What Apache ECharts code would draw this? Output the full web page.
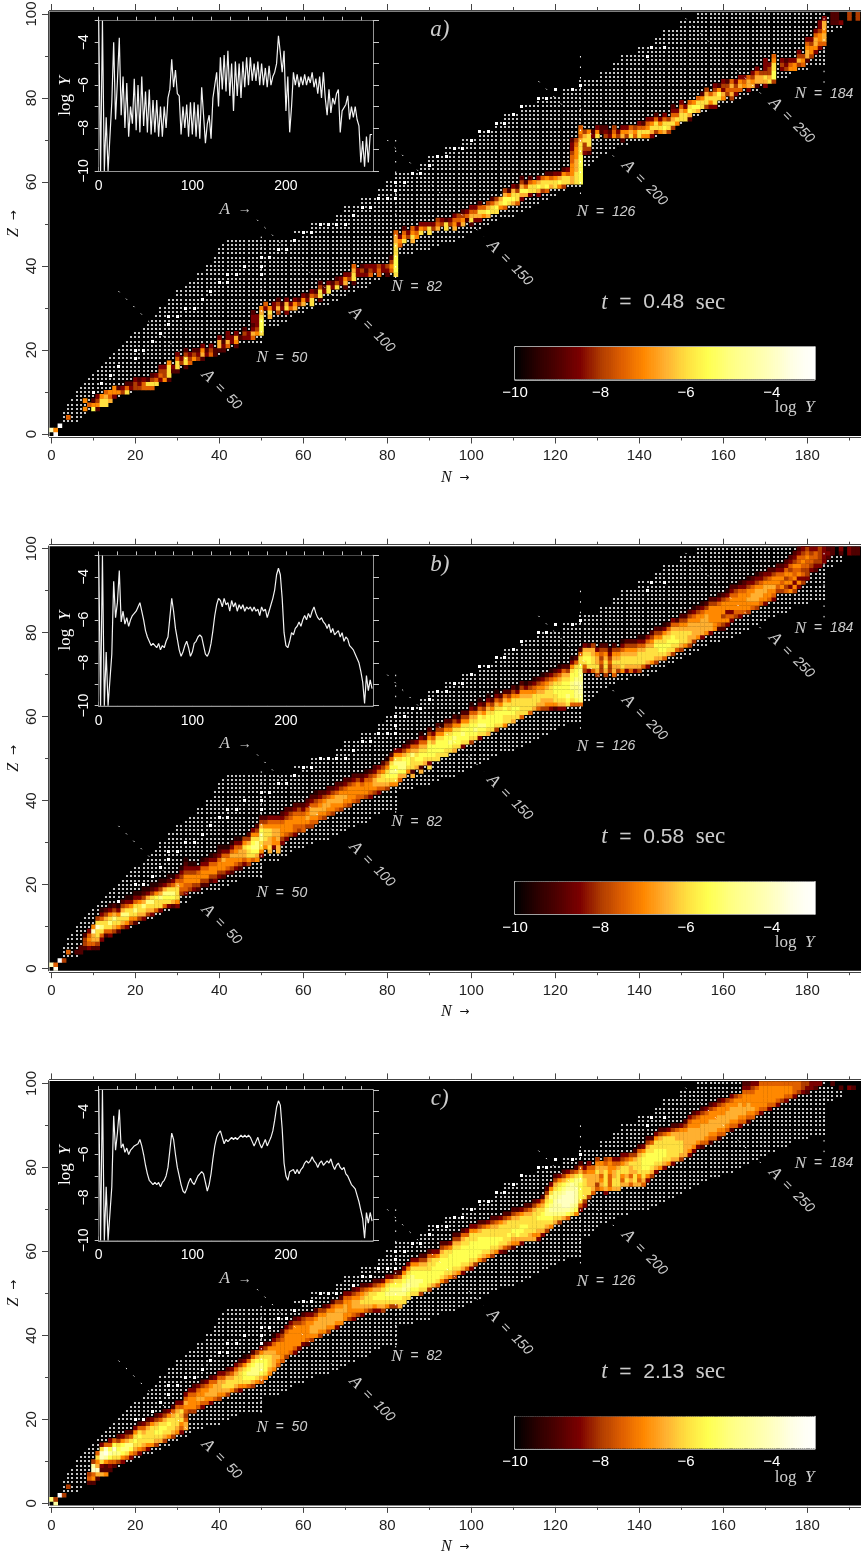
<!DOCTYPE html>
<html><head><meta charset="utf-8">
<style>html,body{margin:0;padding:0;background:#fff}#c{width:861px;height:1558px}</style>
<script src="https://cdn.jsdelivr.net/npm/echarts@6/dist/echarts.min.js"></script></head>
<body><div id="c"></div>
<script>
// Tick values
const nMajor=[0,20,40,60,80,100,120,140,160,180], nMinor=[10,30,50,70,90,110,130,150,170,190];
const zMajor=[0,20,40,60,80,100], zMinor=[10,30,50,70,90];
const insetAMajor=[0,100,200], insetATicks=[0,20,40,60,80,100,120,140,160,180,200,220,240,260,280];
const insetYMajor=[-10,-8,-6,-4], insetYTicks=[-10,-9,-8,-7,-6,-5,-4,-3];
const barMajor=[-10,-8,-6,-4], barTicks=[-10,-9,-8,-7,-6,-5,-4,-3];
const panelLetters=['a)','b)','c)'], panelTimes=['0.48','0.58','2.13'];

// Extent of the reaction network: first Z is 3
const networkNMin=[3,3,3,4,4,5,6,6,7,8,9,10,11,12,13,14,15,16,17,18,19,20,22,23,24,25,26,26,28,28,30,30,32,33,35,35,37,37,39,39,40,40,41,42,60,58,62,62,68,68,70,70,74,74,78,78,80,80,82,82,88,88,90,90,94,94,98,98,102,102,106,106,108,108,112,112,116,116,122,122,126,126,131,131,134,134,136,136,140,140,144,144,146,146,150,150,154,154];
const networkNMax=[6,7,8,10,12,14,16,19,21,24,26,28,30,32,33,36,40,42,44,50,50,50,50,54,56,57,60,62,66,68,70,72,75,76,78,82,82,82,82,82,86,90,92,96,98,100,102,104,106,110,112,114,116,118,120,122,126,126,126,126,126,128,129,130,132,134,137,142,144,146,148,150,152,154,156,159,162,164,166,168,170,172,175,176,180,184,184,184,184,184,184,184,184,186,188,188,186,184];
// Stable nuclei, drawn a little larger [N,Z]
const stableDots=[[10,10],[12,12],[14,14],[16,16],[20,20],[20,18],[22,20],[24,22],[26,24],[28,26],[28,28],[30,28],[32,30],[34,30],[36,32],[38,34],[40,36],[42,36],[42,38],[44,38],[46,40],[50,38],[50,40],[50,42],[52,42],[54,44],[56,44],[58,46],[60,48],[62,48],[64,50],[66,50],[68,50],[70,50],[72,52],[74,54],[76,54],[78,56],[80,56],[82,56],[82,58],[82,60],[84,60],[86,62],[88,62],[90,64],[92,66],[94,66],[96,68],[98,68],[100,70],[102,72],[104,72],[106,74],[108,74],[110,76],[112,78],[116,80],[118,80],[120,82],[124,82],[126,83],[142,90],[143,92],[146,92]];

// Abundance columns: [N, lowest Z, levels upward]. One hex digit per nuclide, logY = -10 + digit/2, '.' = empty
const cellsA=[[0,1,"c"],[1,0,"e6"],[2,2,"e"],[4,4,"5"],[8,6,"6.6"],[9,7,"5"],[10,6,"962"],[11,6,"2643"],[12,7,"886"],[13,7,"8875"],[14,8,"756"],[15,9,"366"],[16,10,"62"],[17,10,"43"],[18,10,"852"],[19,11,"32"],[20,11,"443"],[21,11,"432"],[22,11,"553"],[23,11,"582"],[24,11,"5842"],[25,12,"853"],[26,13,"3543"],[27,13,"6443"],[28,13,"28886"],[29,15,"23"],[30,15,"28853"],[31,17,"43"],[32,16,"28842"],[33,17,"543"],[34,18,"642"],[35,18,"432"],[36,18,"2763"],[37,19,"32"],[38,19,"543"],[39,19,"22"],[40,20,"2773"],[41,20,"232"],[42,21,"5733"],[43,22,"33"],[44,21,"2673"],[45,23,"2"],[46,23,"342"],[47,23,"33"],[48,23,"5732332"],[49,24,"64333"],[50,24,"8999876"],[51,30,"35"],[52,28,"786"],[53,30,"33"],[54,29,"4742"],[55,30,"32"],[56,29,"3873"],[57,30,"53"],[58,30,"763"],[59,31,"42"],[60,31,"763"],[61,32,"32"],[62,31,"8853"],[63,33,"42"],[64,32,"28842"],[65,34,"32"],[66,34,"883"],[67,35,"32"],[68,35,"842"],[69,36,"33"],[70,35,"2763"],[71,37,"43"],[72,36,"28875"],[73,38,"33"],[74,38,"342"],[75,38,"323"],[76,38,"543"],[77,39,"33"],[78,38,"554"],[79,39,"33"],[80,38,"234"],[81,39,"5642"],[82,38,"89999888775"],[83,45,"563"],[84,46,"8652"],[85,47,"43"],[86,46,"7865"],[87,47,"653"],[88,48,"863"],[89,49,"53"],[90,48,"883"],[91,49,"43"],[92,49,"754"],[93,50,"43"],[94,49,"882"],[95,50,"43"],[96,49,"7653"],[97,50,"354"],[98,50,"7642"],[99,51,"253"],[100,50,"28753"],[101,51,"3753"],[102,51,"37852"],[103,52,"685"],[104,52,"7974"],[105,53,"8852"],[106,53,"8974"],[107,54,"687"],[108,54,"59974"],[109,55,"8962"],[110,55,"79873"],[111,55,"58842"],[112,56,"379742"],[113,57,"7952"],[114,57,"38852"],[115,58,"886"],[116,57,"37973"],[117,58,"4885"],[118,58,"59862"],[119,59,"7852"],[120,59,"8863"],[121,59,"6973"],[122,59,"48862"],[123,60,"8853"],[124,60,"77666554332"],[125,60,"88877766654"],[126,60,"99999998887565"],[127,67,"344874"],[128,67,"248886"],[129,71,"32"],[130,71,"863"],[131,72,"22"],[132,71,"432"],[133,71,"32"],[134,71,"654"],[135,71,"43"],[136,70,"2763"],[137,71,"463"],[138,71,"875"],[139,71,"564"],[140,71,"8853"],[141,71,"6852"],[142,71,"68653"],[143,71,"37863"],[144,72,"48852"],[145,72,"6863"],[146,72,"79853"],[147,72,"4884"],[148,73,"487532"],[149,74,"6853"],[150,75,"88753"],[151,75,"8863"],[152,75,"27985"],[153,77,"896"],[154,77,"7985"],[155,78,"8862"],[156,78,"48874"],[157,78,"3685"],[158,78,"388743"],[159,80,"8962"],[160,80,"67343"],[161,81,"4542"],[162,80,"47575"],[163,81,"3543"],[164,82,"5763"],[165,83,"653"],[166,82,"3775"],[167,83,"7643"],[168,83,"27753"],[169,84,"774"],[170,83,"3784333"],[171,84,"87443"],[172,84,"4998865"],[174,87,"343"],[175,87,"432"],[176,87,"653"],[177,87,"663"],[178,88,"4743"],[179,88,"564"],[180,89,"277653"],[181,90,"46643"],[182,91,"367753"],[183,92,"3566433"],[184,93,"5776773"],[186,98,"222"],[187,98,"222"],[188,98,"3"],[190,99,"44"],[192,99,"44"]];
const cellsB=[[0,1,"c"],[1,0,"d5"],[2,2,"e"],[3,2,"4"],[4,4,"5"],[6,4,"2"],[7,4,"22"],[8,5,"2442"],[9,5,"35653"],[10,5,"2577c6"],[11,5,"24788c84"],[12,7,"358a8531"],[13,8,"2588742"],[14,8,"358a8631"],[15,9,"478a742"],[16,9,"2688631"],[17,10,"478a742"],[18,10,"368a8531"],[19,11,"4688631"],[20,11,"268a8531"],[21,12,"4788631"],[22,12,"378a7421"],[23,13,"478a731"],[24,13,"378a8421"],[25,14,"5889631"],[26,14,"388a7421"],[27,15,"589a731"],[28,15,"389a8421"],[29,15,"279a8531"],[30,15,"36888753"],[31,18,"4565431"],[32,18,"355664321"],[33,19,"4566431"],[34,19,"3466431"],[35,19,"246653"],[36,20,"2466531"],[37,20,"2466532"],[38,21,"2466531"],[39,21,"3466532"],[40,22,"34665321"],[41,22,"24667531"],[42,23,"3566531"],[43,23,"24667531"],[44,24,"35676531"],[45,24,"24677531"],[46,25,"3577864"],[47,25,"46889742"],[48,26,"589a9863"],[49,26,"679aa8642"],[50,27,"3688aa9742"],[51,29,"67888642"],[52,28,"787788653"],[53,29,"36677653"],[54,28,"776777653"],[55,30,"34666532"],[56,31,"35666432"],[57,32,"4666542"],[58,32,"35566532"],[59,33,"4566542"],[60,33,"5566532"],[61,34,"4676532"],[62,34,"45677532"],[63,35,"56775421"],[64,36,"5676532"],[65,36,"4677642"],[66,37,"5677532"],[67,37,"4667642"],[68,38,"5677532"],[69,38,"4677642"],[70,39,"5676532"],[71,39,"4666642"],[72,40,"5666532"],[73,40,"4566642"],[74,41,"566532"],[75,41,"4666531"],[76,41,"3566542"],[77,42,"4677532"],[78,42,"3578753"],[79,43,"5788642"],[80,43,"47898641"],[81,44,"689a9852"],[82,44,"689a9a863"],[83,45,"579aa863"],[84,46,"79aa9742"],[85,47,"68998631"],[86,46,"72888a752"],[87,48,"7898753"],[88,47,"7289987531"],[89,49,"7898752"],[90,48,"8389998642"],[91,50,"8999753"],[92,50,"889998642"],[93,51,"89998641"],[94,51,"889998642"],[95,52,"89a98642"],[96,52,"789a98642"],[97,53,"89998631"],[98,53,"389a98642"],[99,54,"89998642"],[100,54,"4899987531"],[101,55,"89a98752"],[102,55,"389a997531"],[103,56,"89a98642"],[104,56,"7899987531"],[105,57,"89998642"],[106,57,"4899987531"],[107,58,"89998642"],[108,58,"688998752"],[109,59,"88988642"],[110,59,"789988642"],[111,60,"88988631"],[112,60,"588887642"],[113,61,"88887631"],[114,61,"58887642"],[115,62,"78886531"],[116,62,"57887642"],[117,62,"477876531"],[118,62,"467887642"],[119,62,"3678887531"],[120,62,"2688998642"],[121,62,"37899987531"],[122,62,"37899998752"],[123,63,"89a9998742"],[124,63,"5899aa998631"],[125,63,"59aaaba99852"],[126,63,"5aabbbaaa98852"],[127,71,"4589873"],[128,71,"3899872"],[129,71,"5888774"],[130,70,"4787763"],[131,71,"4454542"],[132,70,"47887642"],[133,71,"445432"],[134,70,"57787642"],[135,71,"478764"],[136,71,"68887531"],[137,71,"37887642"],[138,71,"57887642"],[139,71,"37887642"],[140,71,"478887531"],[141,72,"58887531"],[142,72,"37888753"],[143,73,"68887642"],[144,73,"478898642"],[145,74,"78998642"],[146,74,"589988631"],[147,75,"78998752"],[148,75,"488998753"],[149,76,"58988752"],[150,76,"478887642"],[151,77,"68887642"],[152,77,"477877642"],[153,78,"477776531"],[154,79,"67776642"],[155,79,"377776531"],[156,80,"67777642"],[157,80,"377666642"],[158,81,"66666642"],[159,81,"256666531"],[160,81,"246466642"],[161,82,"365366531"],[162,83,"353666532"],[163,84,"45666542"],[164,84,"356666531"],[165,85,"56666532"],[166,85,"466766431"],[167,86,"56776532"],[168,86,"467776431"],[169,87,"56776532"],[170,87,"36677643"],[171,88,"56676532"],[172,88,"35676642"],[173,90,"4566532"],[174,90,"4656532"],[175,90,"54646532"],[176,90,"636564532"],[177,90,"4636556432"],[178,91,"3636565532"],[179,92,"4354565432"],[180,93,"344556542"],[181,95,"345543"],[182,95,"234553"],[183,96,"34444"],[184,97,"3333"],[185,98,"232"],[186,99,"22"],[188,99,"23"],[190,99,"33"],[191,99,"22"],[192,99,"22"]];
const cellsC=[[0,1,"a"],[1,0,"b4"],[2,2,"e"],[3,2,"4"],[4,4,"4"],[9,5,"254"],[10,5,"265cb4"],[11,6,"27c7685"],[12,7,"7238cc83"],[13,7,"6226bdc5"],[14,8,"2359b953"],[15,9,"258ac95"],[16,10,"48a9842"],[17,10,"369a963"],[18,11,"58aa742"],[19,11,"369a852"],[20,12,"5789863"],[21,12,"36889852"],[22,13,"5788753"],[23,13,"36888742"],[24,14,"6888863"],[25,14,"47898742"],[26,15,"7899853"],[27,15,"47898742"],[28,16,"6889863"],[29,16,"47888752"],[30,17,"67888753"],[31,17,"35687853"],[32,18,"775456753"],[33,22,"466653"],[34,22,"4666532"],[35,23,"567653"],[36,23,"3576642"],[37,24,"567653"],[38,24,"3677652"],[39,25,"577753"],[40,25,"4677753"],[41,26,"678753"],[42,26,"4788742"],[43,27,"688753"],[44,27,"4788753"],[45,27,"36888742"],[46,28,"68998631"],[47,28,"589a9852"],[48,28,"479aa9852"],[49,29,"68aaa974"],[50,29,"579aa9863"],[51,30,"689998742"],[52,31,"67888763"],[53,32,"677776531"],[54,33,"56766643"],[55,34,"56666542"],[56,35,"46666653"],[57,36,"56666643"],[58,36,"356666642"],[59,37,"36666643"],[60,38,"36666542"],[61,38,"25666653"],[62,39,"4677653"],[63,40,"6777642"],[64,40,"4677764"],[65,41,"6777642"],[66,41,"4677763"],[67,42,"6777652"],[68,42,"3677764"],[69,43,"6777642"],[70,44,"6677653"],[71,44,"4666653"],[72,44,"35677642"],[73,45,"4677653"],[74,45,"36787642"],[75,46,"5788752"],[76,46,"4788863"],[77,46,"36898742"],[78,46,"37899752"],[79,46,"47899863"],[80,47,"689a9863"],[81,47,"489aa973"],[82,47,"489aa9842"],[83,47,"789aa9852"],[84,48,"88aba9863"],[85,49,"89aba9863"],[86,50,"89aaa9863"],[87,50,"89aa99863"],[88,50,"489a998742"],[89,51,"899998742"],[90,51,"4899988752"],[91,52,"799998853"],[92,52,"589999863"],[93,53,"6899998742"],[94,53,"4789998852"],[95,54,"689999863"],[96,54,"47899998742"],[97,55,"6899998742"],[98,55,"37899998752"],[99,56,"5899998853"],[100,56,"37899998863"],[101,57,"4899998863"],[102,58,"6899998742"],[103,58,"4789998852"],[104,59,"689998863"],[105,59,"4789988742"],[106,60,"689988752"],[107,60,"378988863"],[108,60,"2588888742"],[109,61,"478988852"],[110,61,"2678988742"],[111,62,"679988752"],[112,62,"378998863"],[113,63,"788988742"],[114,63,"778888752"],[115,63,"7688888742"],[116,63,"3678898863"],[117,64,"3788998752"],[118,65,"4789aa98742"],[119,66,"689aba9a863"],[120,67,"78abbbaa8742"],[121,67,"48abbcba9863"],[122,68,"7abcccba9742"],[123,68,"59bccccba863"],[124,69,"8abcccbb974"],[125,69,"69abbbbaa852"],[126,70,"3589999a9752"],[127,71,"3488888753"],[128,73,"488777653"],[129,74,"5777765"],[130,75,"54778764"],[131,75,"6765776"],[132,74,"378888754"],[133,75,"65556665"],[134,75,"78877653"],[135,75,"78888753"],[136,76,"75688643"],[137,76,"78788753"],[138,76,"57577864"],[139,76,"788788742"],[140,76,"7568888752"],[141,76,"5788999863"],[142,77,"36899998742"],[143,78,"4789998852"],[144,79,"3789998863"],[145,80,"6899988742"],[146,80,"3789988852"],[147,81,"688888863"],[148,81,"3788888742"],[149,82,"788887752"],[150,82,"478887763"],[151,83,"777777642"],[152,83,"3677777653"],[153,84,"3677776642"],[154,85,"367776653"],[155,85,"2577776642"],[156,86,"567776653"],[157,86,"2567776642"],[158,87,"567776653"],[159,87,"2567776642"],[160,88,"567776653"],[161,89,"56777664"],[162,89,"256777653"],[163,90,"56777664"],[164,90,"35677765"],[165,91,"5677666532"],[166,91,"2567766532"],[167,92,"567666543"],[168,93,"56666653"],[169,93,"35666665"],[170,94,"5666665"],[171,94,"3566665"],[172,95,"566665"],[173,95,"356665"],[174,96,"46665"],[175,96,"35665"],[176,97,"5665"],[177,97,"3555"],[178,98,"455"],[179,98,"344"],[180,98,"234"],[181,99,"33"],[182,99,"23"],[183,100,"3"],[186,100,"2"],[188,99,"2"],[190,99,"3"],[191,99,"2"]];

// Inset: log Y per mass number A = 0, 2, 4 ... 292
const insetA=[-3,-10,-3,-10,-7.5,-10,-10,-6.8,-4,-7.6,-5.8,-3.8,-7.4,-5.6,-8,-5.9,-8.4,-7,-7.8,-5.7,-8.1,-6,-8.2,-5.6,-7.9,-6.3,-8.2,-6.2,-8.3,-6.7,-8.2,-6.7,-8.4,-7,-8.4,-7,-8,-6.6,-6.2,-4.8,-6.1,-5.3,-6.4,-6.5,-8.3,-7,-8,-6.9,-8.4,-6.8,-8.3,-6.8,-8.4,-6.9,-8.5,-6.1,-7.4,-8.7,-7.8,-7.4,-8.5,-6.6,-6,-5.4,-7,-4.7,-6.2,-4.6,-6.3,-4.4,-6.5,-5,-7.2,-4.9,-6.5,-5,-6.6,-4.9,-6.1,-4.7,-6,-4.7,-5.8,-5,-5.8,-4.9,-6,-5,-6,-5.2,-6.1,-5.1,-6,-5.6,-5.4,-5,-3.7,-4.5,-5.4,-4.4,-7.2,-5.6,-8.2,-7,-5.4,-6,-5.5,-6.1,-5.6,-6,-5.5,-6,-5.6,-5.9,-5.4,-6.1,-5.7,-6.4,-5.6,-6.6,-5.4,-6.6,-7.4,-6.2,-7.3,-6.6,-6.9,-6.4,-6.2,-8.2,-7.2,-7.2,-6.9,-6.5,-7.6,-7,-7.5,-7,-7.6,-7.9,-9.6,-8.6,-9.8,-8.4,-9.6,-8.3,-8.3];
const insetB=[-3,-10,-3,-10,-7.5,-10,-10,-7.6,-4.2,-5.9,-5.2,-3.7,-6.1,-5.6,-6.2,-5.9,-6.3,-6,-5.8,-5.7,-5.6,-5.4,-5.2,-5.6,-6,-6.5,-6.8,-7,-7.2,-7.1,-7.1,-7.3,-7.1,-7.4,-7.2,-7.3,-7,-6.8,-5.9,-5,-5.6,-6.4,-6.9,-7.4,-7.7,-7.5,-7.2,-7,-7.3,-7.7,-7.5,-7.1,-7,-6.8,-6.7,-6.8,-7.2,-7.6,-7.7,-7.5,-7.1,-6.5,-5.8,-5.3,-5,-5.1,-5.4,-5,-5.3,-5.2,-5.6,-5.1,-5.4,-5.2,-5.6,-5.3,-5.5,-5.3,-5.6,-5.4,-5.5,-5.4,-5.6,-5.4,-5.6,-5.5,-5.8,-5.4,-5.6,-5.5,-5.9,-5.6,-5.3,-5,-4.6,-3.9,-3.6,-3.9,-5,-6.6,-7.2,-7.3,-7,-6.6,-6.7,-6.4,-6.3,-6.1,-6.3,-6,-5.8,-6,-5.7,-5.9,-5.6,-5.4,-5.7,-5.9,-6,-5.9,-6.1,-6.2,-6.4,-6.2,-6.6,-6.4,-6.7,-6.6,-6.5,-6.8,-6.6,-7,-6.8,-6.9,-7.2,-7.3,-7.4,-7.6,-7.8,-8,-8.4,-8.9,-9.9,-8.6,-9.3,-8.8,-9.2];
const insetC=[-3,-10,-3,-10,-7.5,-10,-10,-7.5,-4.2,-5.8,-5,-3.9,-5.7,-5.5,-5.9,-5.7,-6,-5.8,-5.7,-5.6,-5.6,-5.5,-5.3,-5.6,-6,-6.5,-6.9,-7.2,-7.3,-7.4,-7.3,-7.4,-7.3,-7.5,-7.3,-7.2,-7,-6.6,-5.8,-5,-5.3,-6,-6.6,-7,-7.4,-7.7,-7.8,-7.6,-7.3,-7.1,-7.3,-7.4,-7.2,-7,-6.9,-6.8,-6.9,-7.3,-7.7,-7.4,-6.9,-6.2,-5.6,-5.2,-5,-4.9,-5.2,-5.5,-5.3,-5.4,-5.3,-5.2,-5.3,-5.2,-5.3,-5.2,-5.1,-5.2,-5.1,-5.2,-5.1,-5.2,-5.4,-5.6,-5.4,-5.2,-5.5,-5.7,-5.5,-5.3,-5.6,-5.4,-5.2,-4.9,-4.4,-3.8,-3.5,-3.7,-4.8,-6.4,-7,-7.2,-6.8,-6.8,-6.7,-6.9,-6.7,-6.9,-6.7,-6.6,-6.4,-6.3,-6.4,-6.3,-6.1,-6.3,-6.4,-6.6,-6.4,-6.3,-6.5,-6.4,-6.3,-6.4,-6.2,-6.5,-6.7,-6.5,-6.4,-6.6,-6.7,-6.6,-6.9,-7,-7.2,-7.4,-7.5,-7.6,-7.9,-8.2,-8.6,-9,-9.9,-8.7,-9.2,-8.7,-9.1];

// Dotted guides as [N,Z] pairs, null splits them
const guideLines=[[16,34],[33,17],[null,null],[49,51],[68,32],[null,null],[80,70],[103,47],[null,null],[116,84],[135,65],[null,null],[151,99],[170,80],[null,null],[50,47],[50,18],[null,null],[82,70],[82,36],[null,null],[126,90],[126,55],[null,null],[184,99],[184,83]];
const annotations=[[54.9,18.1,'{i|N}{s|  =  }{d|50}',0],[87,35,'{i|N}{s|  =  }{d|82}',0],[132.1,52.9,'{i|N}{s|  =  }{d|126}',0],[184,81,'{i|N}{s|  =  }{d|184}',0],[40.6,10.5,'{i|A}{s|  =  }{d|50}',-45],[76.4,24.8,'{i|A}{s|  =  }{d|100}',-45],[109.2,40.7,'{i|A}{s|  =  }{d|150}',-45],[141.3,59.7,'{i|A}{s|  =  }{d|200}',-45],[176.3,74.6,'{i|A}{s|  =  }{d|250}',-45],[43.9,53.5,'{i|A}{s|  →}',0],[177,6.2,'{wr|log  }{wi|Y}',0]];
const colorStops=['#000000','#2a0000','#500000','#7c0000','#b03c00','#e06000','#ff8800','#ffb030','#ffe040','#ffff50','#ffff80','#ffffa0','#ffffc0','#ffffe8','#ffffff'];

const rich={i:{fontFamily:'Liberation Serif',fontStyle:'italic',fontSize:17,color:'#fff'},s:{fontFamily:'Liberation Sans',fontSize:14,color:'#fff'},d:{fontFamily:'Liberation Sans',fontStyle:'italic',fontSize:14,color:'#fff'},
 ti:{fontFamily:'Liberation Serif',fontStyle:'italic',fontSize:23,color:'#fff'},ts:{fontFamily:'Liberation Sans',fontSize:21,color:'#fff'},td:{fontFamily:'Liberation Sans',fontSize:21,color:'#fff'},tu:{fontFamily:'Liberation Serif',fontSize:23,color:'#fff'},
 L:{fontFamily:'Liberation Serif',fontStyle:'italic',fontSize:23,color:'#fff'},
 ax:{fontFamily:'Liberation Serif',fontStyle:'italic',fontSize:16,color:'#111'},ar:{fontFamily:'DejaVu Sans',fontSize:12,color:'#111'},
 wi:{fontFamily:'Liberation Serif',fontStyle:'italic',fontSize:17,color:'#fff'},wr:{fontFamily:'Liberation Serif',fontSize:17,color:'#fff'}};

const PANEL_STEP=534.7, N0=-0.43, N1=192.8, Z0=-0.476, Z1=100.6;
const minus=v=>String(v).replace('-','\u2212');
const colorbarLevels=[]; for(let k=0;k<140;k++) colorbarLevels.push(-10+k*0.05);

const grids=[],xAxes=[],yAxes=[],series=[],cellSeriesIdx=[];
function xAx(g,o){xAxes.push(Object.assign({type:'value',gridIndex:g,min:N0,max:N1,splitLine:{show:false},axisLine:{show:true,onZero:false,lineStyle:{color:'#444',width:1}},axisLabel:{show:false},axisTick:{show:false}},o));return xAxes.length-1;}
function yAx(g,o){yAxes.push(Object.assign({type:'value',gridIndex:g,min:Z0,max:Z1,splitLine:{show:false},axisLine:{show:true,onZero:false,lineStyle:{color:'#444',width:1}},axisLabel:{show:false},axisTick:{show:false}},o));return yAxes.length-1;}
const tick=(vals,len,col,inside)=>({show:true,customValues:vals,length:len,inside:!!inside,lineStyle:{color:col||'#444',width:1}});

[cellsA,cellsB,cellsC].forEach((cols,p)=>{
  const dy=PANEL_STEP*p, g=grids.length;
  grids.push({left:49.5,top:11.5+dy,width:811.5,height:424.5,show:true,backgroundColor:'#000',borderWidth:0,outerBoundsMode:'none'});
  const ln={fontFamily:'Liberation Sans',fontSize:15,color:'#222'};
  const x0=xAx(g,{position:'bottom',offset:1.5,axisTick:tick(nMajor,6),axisLabel:Object.assign({show:true,customValues:nMajor,margin:11},ln),
    name:'{ax|N}{ar|  →}',nameLocation:'middle',nameGap:32,nameTextStyle:{rich}});
  xAx(g,{position:'bottom',offset:1.5,axisTick:tick(nMinor,3)});
  xAx(g,{position:'top',offset:1.5,axisTick:tick(nMajor,6)});
  xAx(g,{position:'top',offset:1.5,axisTick:tick(nMinor,3)});
  const y0=yAx(g,{position:'left',offset:1.5,axisTick:tick(zMajor,6),axisLabel:Object.assign({show:true,customValues:zMajor,rotate:90,margin:9},ln),
    name:'{ax|Z}{ar|  →}',nameLocation:'middle',nameGap:26,nameRotate:90,nameMoveOverlap:false,nameTextStyle:{rich}});
  yAx(g,{position:'left',offset:1.5,axisTick:tick(zMinor,3)});

  const dots=[];
  networkNMin.forEach((lo,k)=>{for(let n=lo;n<=networkNMax[k];n++)dots.push([n,k+3,2]);});
  stableDots.forEach(d=>dots.push([d[0],d[1],3]));
  series.push({type:'custom',xAxisIndex:x0,yAxisIndex:y0,data:dots,dimensions:['N','Z','size'],encode:{x:0,y:1},silent:true,z:2,animation:false,progressive:0,
    renderItem:(pr,api)=>{const a=api.coord([api.value(0),api.value(1)]),s=api.value(2);
      return{type:'rect',shape:{x:Math.round(a[0]-s/2),y:Math.round(a[1]-s/2),width:s,height:s},style:{fill:s>2?'#fff':'#c4c4c4'}};}});

  const cells=[];
  cols.forEach(([n,z,s])=>{for(let k=0;k<s.length;k++){if(s[k]!=='.')cells.push([n,z+k,-10+parseInt(s[k],16)/2]);}});
  cellSeriesIdx.push(series.length);
  series.push({type:'custom',xAxisIndex:x0,yAxisIndex:y0,data:cells,dimensions:['N','Z','logY'],encode:{x:0,y:1},clip:true,silent:true,z:3,animation:false,progressive:0,
    renderItem:(pr,api)=>{const a=api.coord([api.value(0)-.5,api.value(1)+.5]),b=api.coord([api.value(0)+.5,api.value(1)-.5]);
      return{type:'rect',shape:{x:a[0],y:a[1],width:b[0]-a[0]+.4,height:b[1]-a[1]+.4},style:{fill:api.visual('color')}};}});

  series.push({type:'line',xAxisIndex:x0,yAxisIndex:y0,data:guideLines,showSymbol:false,connectNulls:false,silent:true,z:4,animation:false,lineStyle:{color:'#fff',width:1,type:[1.5,9]}});

  const labs=annotations.map(([n,z,t,r])=>({value:[n,z],label:{show:true,formatter:t,rotate:r,position:'inside',rich}}));
  labs.push({value:[92.5,96.2],label:{show:true,formatter:'{L|'+panelLetters[p]+'}',position:'inside',rich}});
  labs.push({value:[145.7,31.3],label:{show:true,formatter:'{ti|t}{ts|  =  }{td|'+panelTimes[p]+'}{ts|  }{tu|sec}',position:'inside',rich}});
  series.push({type:'scatter',xAxisIndex:x0,yAxisIndex:y0,data:labs,symbolSize:0,silent:true,z:8,animation:false});

  // inset
  const gi=grids.length, ic='#c8c8c8';
  grids.push({left:98.7,top:20.7+dy,width:274.3,height:150.3,show:true,backgroundColor:'#000',borderWidth:0,z:6,outerBoundsMode:'none'});
  const ax={show:true,onZero:false,lineStyle:{color:ic,width:1.5}};
  const ix=xAx(gi,{min:0,max:293,position:'bottom',axisLine:ax,axisTick:tick(insetATicks,4,ic,true),axisLabel:{show:true,customValues:insetAMajor,color:'#fff',fontFamily:'Liberation Sans',fontSize:14,margin:8}});
  xAx(gi,{min:0,max:293,position:'top',axisLine:ax,axisTick:tick(insetATicks,4,ic)});
  const iy=yAx(gi,{min:-10,max:-3,position:'left',axisLine:ax,axisTick:tick(insetYTicks,4,ic),axisLabel:{show:true,customValues:insetYMajor,color:'#fff',fontFamily:'Liberation Sans',fontSize:14,rotate:90,margin:8,formatter:minus},
    name:'{wr|log  }{wi|Y}',nameLocation:'middle',nameGap:25,nameRotate:90,nameMoveOverlap:false,nameTextStyle:{rich}});
  yAx(gi,{min:-10,max:-3,position:'right',axisLine:ax,axisTick:tick(insetYTicks,6,ic)});
  const iv=[insetA,insetB,insetC][p].map((v,k)=>[k*2,v]);
  series.push({type:'line',xAxisIndex:ix,yAxisIndex:iy,data:iv,showSymbol:false,silent:true,z:7,animation:false,lineStyle:{color:'#f2f2f2',width:1.2}});

  // colour bar
  const gb=grids.length, bc='#d8d8d8';
  grids.push({left:515,top:347+dy,width:299.5,height:32.3,show:true,backgroundColor:'#000',borderWidth:0,z:6,outerBoundsMode:'none'});
  const bl={show:true,onZero:false,lineStyle:{color:bc,width:1.5}};
  const bx=xAx(gb,{min:-10,max:-3,position:'bottom',axisLine:bl,axisTick:tick(barTicks,4,bc,true),axisLabel:{show:true,customValues:barMajor,color:'#fff',fontFamily:'Liberation Sans',fontSize:15,margin:6,formatter:minus}});
  xAx(gb,{min:-10,max:-3,position:'top',axisLine:bl,axisTick:tick(barTicks,4,bc,true)});
  const by=yAx(gb,{min:0,max:1,position:'left',axisLine:bl});
  yAx(gb,{min:0,max:1,position:'right',axisLine:bl});
  cellSeriesIdx.push(series.length);
  series.push({type:'custom',xAxisIndex:bx,yAxisIndex:by,data:colorbarLevels.map(v=>[v,0,v]),dimensions:['v','y','logY'],encode:{x:0,y:1},silent:true,z:6,animation:false,
    renderItem:(pr,api)=>{const a=api.coord([api.value(0),1]),b=api.coord([api.value(0),0]),x=Math.floor(a[0]);
      return{type:'rect',shape:{x:x,y:a[1],width:3,height:b[1]-a[1]},style:{fill:api.visual('color')}};},clip:true});
});

const chart=echarts.init(document.getElementById('c'),null,{renderer:'canvas',width:861,height:1558});
chart.setOption({animation:false,backgroundColor:'#fff',grid:grids,xAxis:xAxes,yAxis:yAxes,series,
  visualMap:{type:'continuous',show:false,min:-10,max:-3,dimension:2,seriesIndex:cellSeriesIdx,inRange:{color:colorStops}}});
</script></body></html>
